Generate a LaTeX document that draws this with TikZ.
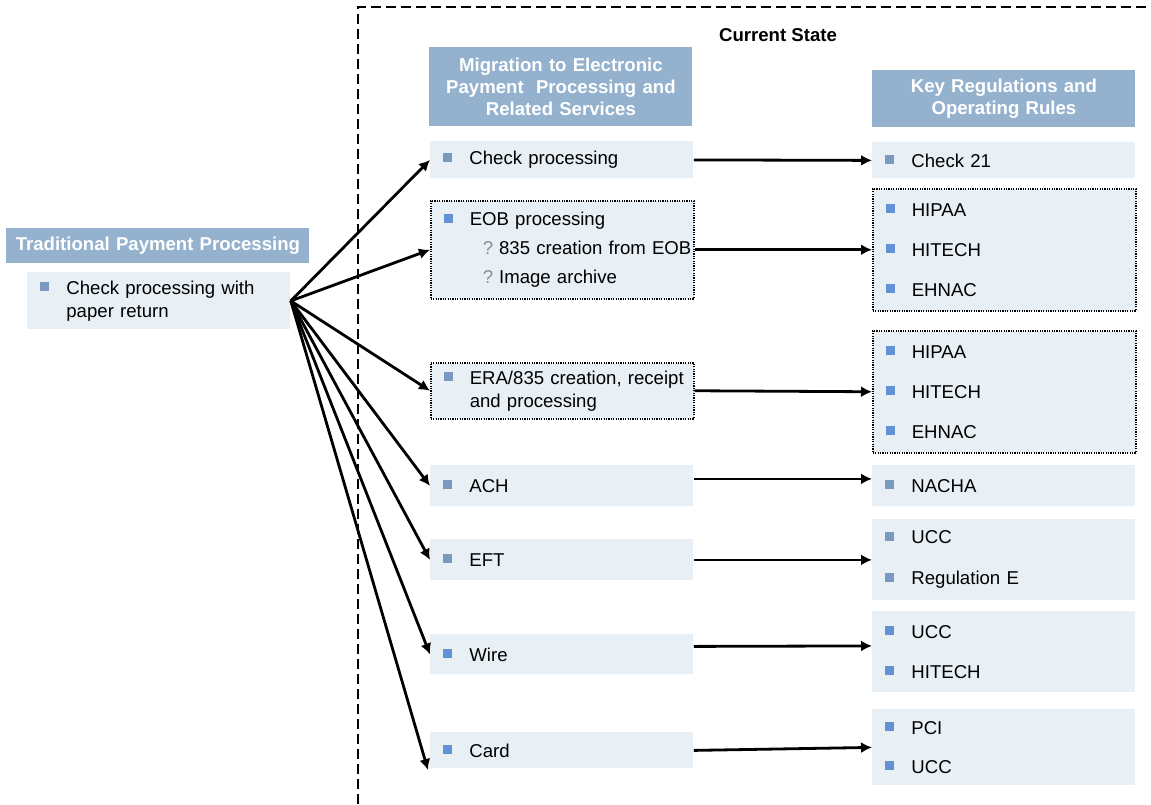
\documentclass[tikz,border=0pt]{standalone}
\usepackage{fontspec}
\setmainfont{Liberation Sans}
\usepackage{xcolor}
\usetikzlibrary{arrows.meta}
\usetikzlibrary{positioning}
\definecolor{headblue}{RGB}{148,178,206}
\definecolor{itemfill}{RGB}{232,240,245}
\definecolor{bulsteel}{RGB}{122,153,192}
\definecolor{bulblue}{RGB}{98,145,212}
\definecolor{qgray}{RGB}{140,140,140}
\newcommand{\sqbul}[1][bulsteel]{\hspace*{6.5pt}\makebox[13pt][l]{\textcolor{#1}{\rule[1.5pt]{4.5pt}{4.5pt}}}}
\newcommand{\hangin}{\hspace*{19.5pt}}
\newcommand{\subq}{\hspace*{26pt}{\color{qgray}?}\hspace{3pt}}
\tikzset{head/.style = {fill=headblue, text=white, anchor=north west, inner sep=0, text width=131.5pt, align=center, font=\fontsize{9.3}{11}\selectfont\bfseries}}
\tikzset{itembox/.style = {fill=itemfill, anchor=north west, inner sep=0, text width=131.5pt, align=left, font=\fontsize{9.3}{11.5}\selectfont}}
\tikzset{itemdot/.style = {itembox, draw, dash pattern=on 0.6pt off 0.6pt, line width=0.75pt}}
\tikzset{arr/.style = {-{Latex[length=5.5pt,width=5.5pt]}, line width=1.4pt}}
\tikzset{stateframe/.style = {dash pattern=on 5pt off 2.5pt, line width=1.1pt}}

\begin{document}
\begin{tikzpicture}[x=0.5pt,y=-0.5pt]
        \useasboundingbox (0,0) rectangle (1151,804);
        \draw [stateframe] (358,804) -- (358,7) -- (1160,7);
        \node [font=\fontsize{9.3}{11}\selectfont\bfseries] (state) at (778,35) {Current State};

        \node [head, text width=151.5pt, minimum height=17.5pt] (hdtrad) at (6,228) {Traditional Payment Processing};
        \node [itembox, minimum height=28.5pt] (trad) at (27,272) {\sqbul Check processing with\\\hangin paper return};

        \node [head, minimum height=39.5pt] (hdmig) at (429,47) {Migration to Electronic\\Payment\ \ Processing and\\Related Services};
        \node [itembox, minimum height=18.5pt] (chk) at (430,141) {\sqbul Check processing};
        \node [itemdot, minimum height=49pt] (eob) at (430,200) {\sqbul[bulblue]EOB processing\\[3pt]\subq 835 creation from EOB\\[3pt]\subq Image archive};
        \node [itemdot, minimum height=28pt] (era) at (430,362) {\sqbul ERA/835 creation, receipt\\\hangin and processing};
        \node [itembox, minimum height=20.5pt] (ach) at (430,465) {\sqbul ACH};
        \node [itembox, minimum height=20.5pt] (eft) at (430,539) {\sqbul EFT};
        \node [itembox, minimum height=20pt] (wire) at (430,634) {\sqbul[bulblue]Wire};
        \node [itembox, minimum height=18pt] (card) at (430,732) {\sqbul[bulblue]Card};

        \node [head, minimum height=28.5pt] (hdreg) at (872,70) {Key Regulations and\\Operating Rules};
        \node [itembox, minimum height=18pt] (c21) at (872,142) {\sqbul Check 21};
        \node [itemdot, minimum height=61pt] (regeob) at (872,188) {\sqbul[bulblue]HIPAA\\[8.5pt]\sqbul[bulblue]HITECH\\[8.5pt]\sqbul[bulblue]EHNAC};
        \node [itemdot, minimum height=61pt] (regera) at (872,330) {\sqbul[bulblue]HIPAA\\[8.5pt]\sqbul[bulblue]HITECH\\[8.5pt]\sqbul[bulblue]EHNAC};
        \node [itembox, minimum height=20.5pt] (nacha) at (872,465) {\sqbul NACHA};
        \node [itembox, minimum height=40.5pt] (regeft) at (872,519) {\sqbul UCC\\[9pt]\sqbul Regulation E};
        \node [itembox, minimum height=40.5pt] (regwire) at (872,611) {\sqbul[bulblue]UCC\\[8.5pt]\sqbul[bulblue]HITECH};
        \node [itembox, minimum height=38pt] (regcard) at (872,709) {\sqbul[bulblue]PCI\\[8pt]\sqbul[bulblue]UCC};

        \coordinate (cardtip) at (428,770);
        \draw [arr] (trad.east) -- (chk.west);
        \draw [arr] (trad.east) -- (eob.west);
        \draw [arr] (trad.east) -- (era.west);
        \draw [arr] (trad.east) -- (ach.west);
        \draw [arr] (trad.east) -- (eft.west);
        \draw [arr] (trad.east) -- (wire.west);
        \draw [arr] (trad.east) -- (cardtip);

        \draw [arr] (chk.east) -- (c21.west);
        \draw [arr] (eob.east) -- (regeob.west);
        \draw [arr] (era.east) -- (regera.west);
        \draw [arr] ([yshift=3.5pt]ach.east) -- ([yshift=3.5pt]nacha.west);
        \draw [arr] (eft.east) -- (regeft.west);
        \draw [arr] ([yshift=4pt]wire.east) -- ([yshift=3pt]regwire.west);
        \draw [arr] (card.east) -- (regcard.west);
    \end{tikzpicture}
\end{document}
